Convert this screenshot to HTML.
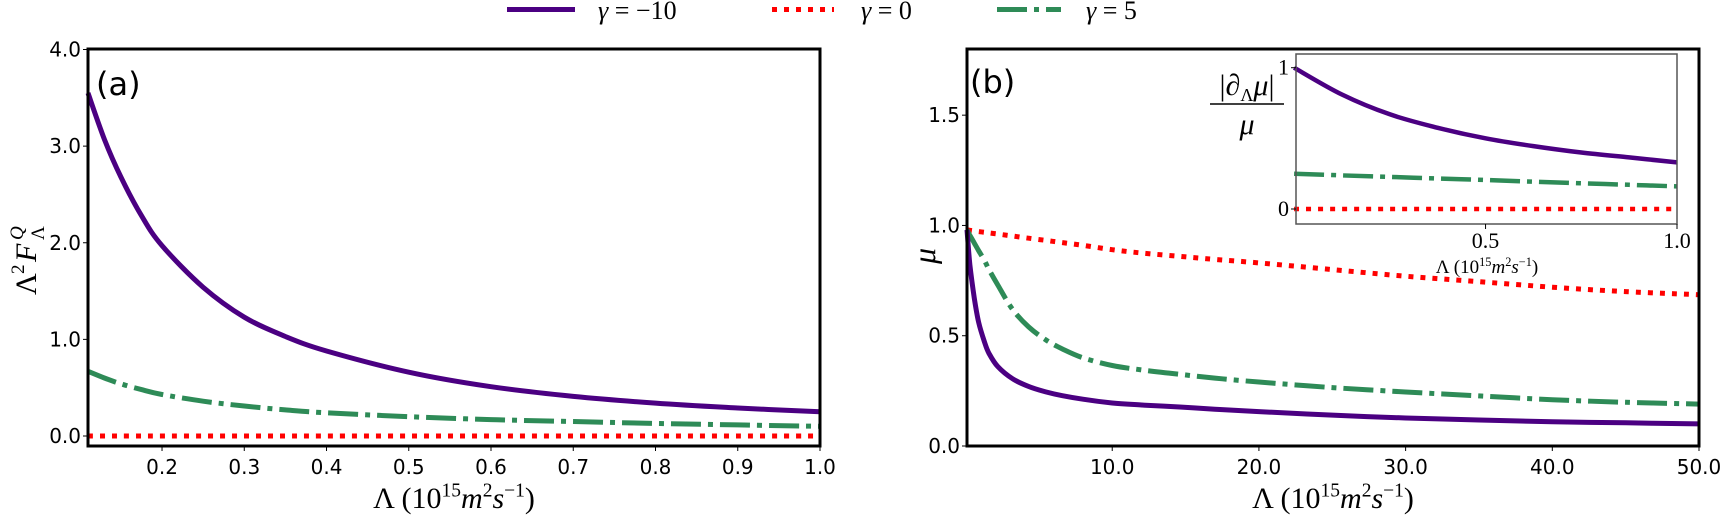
<!DOCTYPE html>
<html><head><meta charset="utf-8"><style>
html,body{margin:0;padding:0;background:#fff;}
svg{display:block;}
.tk{font-family:"DejaVu Sans","Liberation Sans",sans-serif;fill:#000;}
.sr{font-family:"Liberation Serif",serif;fill:#000;}
</style></head><body>
<svg id="fig" width="1720" height="519" viewBox="0 0 1720 519" xmlns="http://www.w3.org/2000/svg">
<g id="legend">
 <g>
  <line x1="507" y1="9.5" x2="575" y2="9.5" stroke="#4b0082" stroke-width="5"/>
  <text class="sr" x="598" y="19" font-size="26" font-style="italic">γ <tspan font-style="normal">= −10</tspan></text>
 </g>
 <g>
  <line x1="772" y1="9.5" x2="834" y2="9.5" stroke="#ff0000" stroke-width="5" stroke-dasharray="5,7"/>
  <text class="sr" x="861" y="19" font-size="26" font-style="italic">γ <tspan font-style="normal">= 0</tspan></text>
 </g>
 <g>
  <line x1="997" y1="9.5" x2="1061" y2="9.5" stroke="#2e8b57" stroke-width="5" stroke-dasharray="30,7,5,7"/>
  <text class="sr" x="1086" y="19" font-size="26" font-style="italic">γ <tspan font-style="normal">= 5</tspan></text>
 </g>
</g>
<g id="pa"></g>
<g id="pb"></g>
<g id="pc"></g>
</svg>
<script>
// Panel (a)
const aX = [0.11,0.13,0.15,0.175,0.2,0.25,0.3,0.35,0.4,0.5,0.6,0.7,0.8,0.9,1.0];
const aPurple = [3.55,3.07,2.68,2.28,1.97,1.54,1.23,1.03,0.88,0.66,0.51,0.41,0.34,0.29,0.25];
const aGreen = [0.67,0.60,0.54,0.48,0.43,0.36,0.31,0.27,0.24,0.20,0.17,0.15,0.13,0.115,0.10];
const aRed = [0,0,0,0,0,0,0,0,0,0,0,0,0,0,0];
const aXTicks = [0.2,0.3,0.4,0.5,0.6,0.7,0.8,0.9,1.0];
const aXTickLabels = ["0.2","0.3","0.4","0.5","0.6","0.7","0.8","0.9","1.0"];
const aYTicks = [0,1,2,3,4];
const aYTickLabels = ["0.0","1.0","2.0","3.0","4.0"];
// Panel (b)
const bX = [0.1,0.3,0.6,0.9,1.3,1.6,2.2,3.2,4.3,5.5,6.6,8,10,12,14.6,17,20,25,30,35,40,45,50];
const bPurple = [0.98,0.82,0.67,0.56,0.47,0.42,0.36,0.305,0.27,0.245,0.228,0.212,0.195,0.186,0.177,0.167,0.156,0.14,0.127,0.118,0.11,0.105,0.10];
const bGreen = [0.98,0.955,0.92,0.885,0.84,0.80,0.73,0.62,0.54,0.48,0.44,0.40,0.365,0.345,0.325,0.308,0.29,0.265,0.245,0.227,0.21,0.198,0.19];
const bRed = [0.98,0.978,0.975,0.972,0.969,0.966,0.961,0.952,0.942,0.932,0.922,0.91,0.89,0.875,0.86,0.846,0.83,0.80,0.77,0.745,0.72,0.70,0.686];
const bXTicks = [10,20,30,40,50];
const bXTickLabels = ["10.0","20.0","30.0","40.0","50.0"];
const bYTicks = [0,0.5,1.0,1.5];
const bYTickLabels = ["0.0","0.5","1.0","1.5"];
// Inset
const cX = [0.0,0.125,0.25,0.375,0.5,0.625,0.75,0.875,1.0];
const cPurple = [1.0,0.81,0.67,0.575,0.50,0.445,0.40,0.365,0.33];
const cGreen = [0.25,0.238,0.227,0.216,0.205,0.193,0.182,0.171,0.16];
const cRed = [0,0,0,0,0,0,0,0,0];
const cXTicks = [0.5,1.0];
const cXTickLabels = ["0.5","1.0"];
const cYTicks = [0,1];
const cYTickLabels = ["0","1"];

const NS="http://www.w3.org/2000/svg";
function mk(parent,tag,attrs){const e=document.createElementNS(NS,tag);for(const k in attrs)e.setAttribute(k,attrs[k]);parent.appendChild(e);return e;}
function lin(d0,d1,r0,r1){return v=>r0+(v-d0)/(d1-d0)*(r1-r0);}
const styles={
 purple:{stroke:"#4b0082",dash:"none"},
 red:{stroke:"#ff0000",dash:"5,7"},
 green:{stroke:"#2e8b57",dash:"30,7,5,7"}
};
function smoothPath(pts){
 let d="M"+pts[0][0].toFixed(1)+","+pts[0][1].toFixed(1);
 for(let i=0;i<pts.length-1;i++){
  const p0=pts[Math.max(0,i-1)],p1=pts[i],p2=pts[i+1],p3=pts[Math.min(pts.length-1,i+2)];
  const c1x=p1[0]+(p2[0]-p0[0])/6,c1y=p1[1]+(p2[1]-p0[1])/6;
  const c2x=p2[0]-(p3[0]-p1[0])/6,c2y=p2[1]-(p3[1]-p1[1])/6;
  d+=" C"+c1x.toFixed(1)+","+c1y.toFixed(1)+" "+c2x.toFixed(1)+","+c2y.toFixed(1)+" "+p2[0].toFixed(1)+","+p2[1].toFixed(1);
 }
 return d;
}
function series(g,xs,ys,sx,sy,st,name,w){
 const pts=xs.map((x,i)=>[sx(x),sy(ys[i])]);
 const p=mk(g,"path",{d:smoothPath(pts),fill:"none",stroke:st.stroke,"stroke-width":w,"stroke-dasharray":st.dash,"stroke-linejoin":"round"});
 
 
}
function axes(g,L,T,R,B,sx,sy,xt,xl,yt,yl,opts){
 const fr=mk(g,"rect",{x:L,y:T,width:R-L,height:B-T,fill:"none",stroke:opts.frame,"stroke-width":opts.fw});
 
 
 xt.forEach((v,i)=>{const x=sx(v);
  mk(g,"line",{x1:x,y1:B,x2:x,y2:B+5,stroke:"#000","stroke-width":1});
  const t=mk(g,"text",{x:x,y:B+opts.xoff,"text-anchor":"middle",class:opts.cls,"font-size":opts.fs});
  t.textContent=xl[i];
  
  
 });
 yt.forEach((v,i)=>{const y=sy(v);
  mk(g,"line",{x1:L-5,y1:y,x2:L,y2:y,stroke:"#000","stroke-width":1});
  const t=mk(g,"text",{x:L-7,y:y+7,"text-anchor":"end",class:opts.cls,"font-size":opts.fs});
  t.textContent=yl[i];
  
  
 });
}
function xlabel(g,cx,y,fs,name){
 const t=mk(g,"text",{x:cx,y:y,"text-anchor":"middle",class:"sr","font-size":fs});
 t.innerHTML='Λ (10<tspan font-size="'+(fs*0.65)+'" dy="-'+(fs*0.38)+'">15</tspan><tspan dy="'+(fs*0.38)+'" font-style="italic">m</tspan><tspan font-size="'+(fs*0.65)+'" dy="-'+(fs*0.38)+'">2</tspan><tspan dy="'+(fs*0.38)+'" font-style="italic">s</tspan><tspan font-size="'+(fs*0.65)+'" dy="-'+(fs*0.38)+'">−1</tspan><tspan dy="'+(fs*0.38)+'">)</tspan>';
 
 
}
// Panel a
(function(){
 const g=document.getElementById('pa');
 const L=88,R=820,T=49,B=446;
 const sx=lin(0.11,1.0,L,R), sy=lin(0,4,436,49.5);
 series(g,aX,aRed,sx,sy,styles.red,'series-gamma-0-a',5);
 series(g,aX,aGreen,sx,sy,styles.green,'series-gamma-5-a',5);
 series(g,aX,aPurple,sx,sy,styles.purple,'series-gamma-minus-10-a',5);
 axes(g,L,T,R,B,sx,sy,aXTicks,aXTickLabels,aYTicks,aYTickLabels,{frame:"#000",fw:3,cls:"tk",fs:20,xoff:28,prefix:'a-'});
 const lab=mk(g,"text",{x:96,y:95,class:"tk","font-size":32});lab.textContent="(a)";
 
 
 xlabel(g,454,508,30,'x-axis-title-a');
 const yg=mk(g,"g",{transform:"translate(36,250) rotate(-90)"});
 
 
 const y1=mk(yg,"text",{x:-45,y:0,class:"sr","font-size":30});y1.textContent="Λ";
 const y2=mk(yg,"text",{x:-24,y:-12,class:"sr","font-size":19});y2.textContent="2";
 const y3=mk(yg,"text",{x:-12,y:0,class:"sr","font-size":30,"font-style":"italic"});y3.textContent="F";
 const y4=mk(yg,"text",{x:10,y:-13,class:"sr","font-size":19,"font-style":"italic"});y4.textContent="Q";
 const y5=mk(yg,"text",{x:10,y:8,class:"sr","font-size":19});y5.textContent="Λ";
})();
// Panel b
(function(){
 const g=document.getElementById('pb');
 const L=967,R=1699,T=49,B=446;
 const sx=lin(0.1,50,L,R), sy=lin(0,1.8,446,49);
 series(g,bX,bRed,sx,sy,styles.red,'series-gamma-0-b',5);
 series(g,bX,bGreen,sx,sy,styles.green,'series-gamma-5-b',5);
 series(g,bX,bPurple,sx,sy,styles.purple,'series-gamma-minus-10-b',5);
 axes(g,L,T,R,B,sx,sy,bXTicks,bXTickLabels,bYTicks,bYTickLabels,{frame:"#000",fw:3,cls:"tk",fs:20,xoff:28,prefix:'b-'});
 const lab=mk(g,"text",{x:970,y:93,class:"tk","font-size":32});lab.textContent="(b)";
 
 
 xlabel(g,1333,508,30,'x-axis-title-b');
 const yl=mk(g,"text",{x:0,y:0,class:"sr","font-size":32,"font-style":"italic",transform:"translate(935,256) rotate(-90)","text-anchor":"middle"});
 yl.textContent="μ";
 
 
})();
// Inset
(function(){
 const g=document.getElementById('pc');
 const L=1296,R=1677,T=54,B=224;
 mk(g,"rect",{x:L,y:T,width:R-L,height:B-T,fill:"#fff"});
 const sx=lin(0.005,1.0,L,R), sy=lin(0,1,209,67.7);
 series(g,cX,cRed,sx,sy,styles.red,'inset-series-gamma-0',4.5);
 series(g,cX,cGreen,sx,sy,styles.green,'inset-series-gamma-5',4.5);
 series(g,cX,cPurple,sx,sy,styles.purple,'inset-series-gamma-minus-10',4.5);
 axes(g,L,T,R,B,sx,sy,cXTicks,cXTickLabels,cYTicks,cYTickLabels,{frame:"#555",fw:1.5,cls:"sr",fs:22,xoff:24,prefix:'inset-'});
 xlabel(g,1487,273,19,'inset-x-axis-title');
 const t1=mk(g,"text",{x:1247,y:95,class:"sr","font-size":30,"text-anchor":"middle"});
 t1.innerHTML='|∂<tspan font-size="18" dy="6">Λ</tspan><tspan dy="-6" font-style="italic">μ</tspan>|';
 
 
 mk(g,"line",{x1:1210,y1:104,x2:1284,y2:104,stroke:"#000","stroke-width":1.5});
 const t2=mk(g,"text",{x:1247,y:134,class:"sr","font-size":30,"font-style":"italic","text-anchor":"middle"});
 t2.textContent="μ";
 
 
})();
</script>
</body></html>
